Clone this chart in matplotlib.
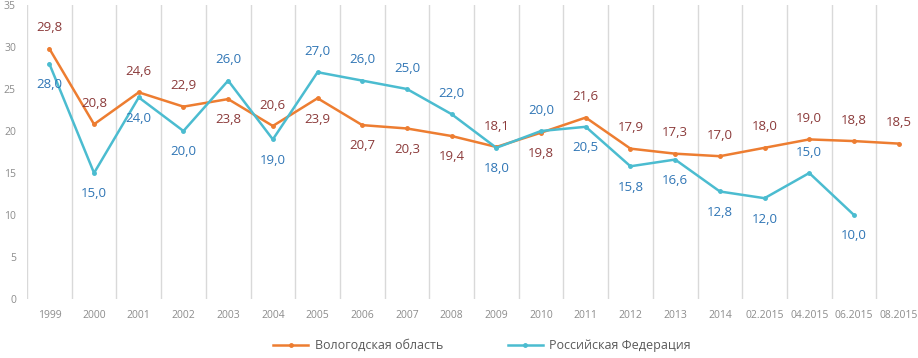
import matplotlib.pyplot as plt
import numpy as np

# Подписи оси X
periods = ["1999", "2000", "2001", "2002", "2003", "2004", "2005", "2006", "2007",
           "2008", "2009", "2010", "2011", "2012", "2013", "2014",
           "02.2015", "04.2015", "06.2015", "08.2015"]

# Значения рядов
vologda = [29.8, 20.8, 24.6, 22.9, 23.8, 20.6, 23.9, 20.7, 20.3, 19.4,
           18.1, 19.8, 21.6, 17.9, 17.3, 17.0, 18.0, 19.0, 18.8, 18.5]
russia = [28.0, 15.0, 24.0, 20.0, 26.0, 19.0, 27.0, 26.0, 25.0, 22.0,
          18.0, 20.0, 20.5, 15.8, 16.6, 12.8, 12.0, 15.0, 10.0, np.nan]

# Положение подписей: 1 - сверху, -1 - снизу
vologda_pos = [1, 1, 1, 1, -1, 1, -1, -1, -1, -1, 1, -1, 1, 1, 1, 1, 1, 1, 1, 1]
russia_pos = [-1, -1, -1, -1, 1, -1, 1, 1, 1, 1, -1, 1, -1, -1, -1, -1, -1, 1, -1, 0]

plt.rcParams['font.family'] = ['Open Sans', 'DejaVu Sans']

fig = plt.figure(figsize=(9.18, 3.58), dpi=100)
ax = fig.add_axes([27 / 918, 1 - 299 / 358, 894 / 918, 294 / 358])

x = np.arange(len(periods))
orange = '#ED7D31'
cyan = '#4BBCD0'

ax.plot(x, vologda, color=orange, lw=1.8, marker='o', ms=2.5, label='Вологодская область', zorder=3)
ax.plot(x, russia, color=cyan, lw=1.8, marker='o', ms=2.5, label='Российская Федерация', zorder=3)

def fmt(v):
    return f"{v:.1f}".replace('.', ',')

for xi, v, p in zip(x, vologda, vologda_pos):
    ax.annotate(fmt(v), (xi, v), xytext=(0, 15 * p), textcoords='offset points',
                ha='center', va='center', fontsize=9.5, color='#8B3A3A')
for xi, v, p in zip(x, russia, russia_pos):
    if np.isnan(v):
        continue
    ax.annotate(fmt(v), (xi, v), xytext=(0, 15 * p), textcoords='offset points',
                ha='center', va='center', fontsize=9.5, color='#2F75B5')

ax.set_xlim(-0.5, len(periods) - 0.5)
ax.set_ylim(0, 35)
ax.set_yticks(range(0, 36, 5))
ax.set_xticks(x)
ax.set_xticklabels(periods)
ax.tick_params(axis='both', length=0, labelsize=7.5, labelcolor='#8c8c8c')
ax.tick_params(axis='x', pad=8)
ax.tick_params(axis='y', pad=8)

for b in np.arange(-0.5, len(periods) - 0.5, 1):
    ax.axvline(b, color='#d9d9d9', lw=1, zorder=1)

for s in ax.spines.values():
    s.set_visible(False)

fig.legend(loc='lower center', bbox_to_anchor=(0.525, -0.015), ncol=2, frameon=False,
           fontsize=9, labelcolor='#595959', handlelength=2.8, handletextpad=0.5,
           columnspacing=5.2)

fig.savefig('out.png', dpi=100)
